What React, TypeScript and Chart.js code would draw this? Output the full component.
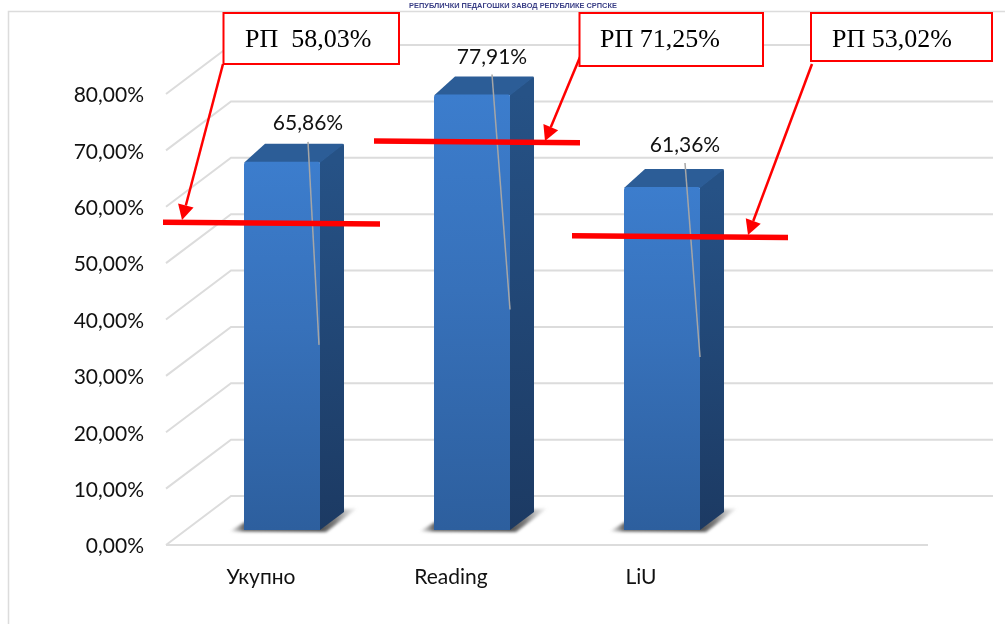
import React, { useEffect, useRef } from "react";
import { Chart, registerables } from "chart.js";

Chart.register(...registerables);

// ---- data ----
const categories = ["Укупно", "Reading", "LiU", ""];
const scores = [65.86, 77.91, 61.36, null];
const referenceValues = ["РП  58,03%", "РП 71,25%", "РП 53,02%"];
const referenceLevels = [57.1, 71.5, 54.7]; // where the hand-placed red lines sit on the axis
const headerText = "РЕПУБЛИЧКИ ПЕДАГОШКИ ЗАВОД РЕПУБЛИКЕ СРПСКЕ";

// ---- layout / style ----
const W = 1005;
const H = 624;
const LATO = "Lato, Carlito, sans-serif";
const SERIF = "'Liberation Serif', serif";
const GRID = "#dcdcdc";
const RED = "#ff0000";
const DEPTH_X = 24;
const DEPTH_Y = -18;
const WALL_DX = 65;
const WALL_DY = -49;
const FLOOR_LEFT = 166;
const FLOOR_RIGHT = 928;

const labelOffsets = [[26, -39], [20, -37], [23, -42]];
const leaderOffsets = [[26, -20, 37, 183], [20, -20, 38, 215], [23, -24, 38, 170]];
const redLines = [[163, 380, 0.8], [374, 580, 0.8], [572, 788, 0.8]];
const boxes = [
  { x: 223.5, y: 13, w: 175.5, h: 51, tx: 245 },
  { x: 579.5, y: 13, w: 183.5, h: 53, tx: 600 },
  { x: 811, y: 13, w: 181, h: 48, tx: 832 },
];
const arrows = [
  [223, 64, 182, 220],
  [580, 57, 545, 141],
  [812, 64, 748, 235],
];

const fmt = (v: number) => v.toFixed(2).replace(".", ",") + "%";

function drawArrow(c: CanvasRenderingContext2D, x0: number, y0: number, x1: number, y1: number) {
  const a = Math.atan2(y1 - y0, x1 - x0);
  const len = 15;
  const half = 8;
  const bx = x1 - Math.cos(a) * len;
  const by = y1 - Math.sin(a) * len;
  c.strokeStyle = RED;
  c.lineWidth = 2.5;
  c.beginPath();
  c.moveTo(x0, y0);
  c.lineTo(bx, by);
  c.stroke();
  c.fillStyle = RED;
  c.beginPath();
  c.moveTo(x1, y1);
  c.lineTo(bx - Math.sin(a) * half, by + Math.cos(a) * half);
  c.lineTo(bx + Math.sin(a) * half, by - Math.cos(a) * half);
  c.closePath();
  c.fill();
}

const backdropPlugin = {
  id: "backdrop",
  beforeDatasetsDraw(chart: any) {
    const c: CanvasRenderingContext2D = chart.ctx;
    const y = chart.scales.y;
    c.save();

    // frame
    c.strokeStyle = GRID;
    c.lineWidth = 1.5;
    c.beginPath();
    c.moveTo(8.5, H);
    c.lineTo(8.5, 11.5);
    c.lineTo(W, 11.5);
    c.stroke();

    // walls and floor
    c.strokeStyle = GRID;
    c.lineWidth = 2;
    y.ticks.forEach((t: any) => {
      const py = y.getPixelForValue(t.value);
      c.beginPath();
      c.moveTo(FLOOR_LEFT, py);
      c.lineTo(FLOOR_LEFT + WALL_DX, py + WALL_DY);
      c.lineTo(FLOOR_RIGHT + WALL_DX, py + WALL_DY);
      c.stroke();
    });
    const py0 = y.getPixelForValue(0);
    c.beginPath();
    c.moveTo(FLOOR_LEFT, py0);
    c.lineTo(FLOOR_RIGHT, py0);
    c.stroke();

    // bar depth
    chart.getDatasetMeta(0).data.forEach((bar: any, i: number) => {
      if (scores[i] == null) return;
      const { x, y: top, base, width } = bar.getProps(["x", "y", "base", "width"], true);
      const l = x - width / 2;
      const r = x + width / 2;

      // floor shadow
      c.save();
      c.filter = "blur(1.5px)";
      const sg = c.createLinearGradient(l - 15, 0, r + 38, 0);
      const span = r + 38 - (l - 15);
      sg.addColorStop(0, "rgba(110,110,110,0)");
      sg.addColorStop(15 / span, "rgba(70,70,70,0.85)");
      sg.addColorStop((width + 15) / span, "rgba(60,60,60,0.9)");
      sg.addColorStop((width + 30) / span, "rgba(80,80,80,0.75)");
      sg.addColorStop(1, "rgba(130,130,130,0)");
      c.fillStyle = sg;
      c.beginPath();
      c.moveTo(l - 15, base + 1.5);
      c.lineTo(l + 8, base - 12);
      c.lineTo(r + 38, base + DEPTH_Y - 4);
      c.lineTo(r + 6, base + 2);
      c.closePath();
      c.fill();
      c.restore();

      // side
      const side = c.createLinearGradient(0, top, 0, base);
      side.addColorStop(0, "#265286");
      side.addColorStop(1, "#1c3a63");
      c.fillStyle = side;
      c.beginPath();
      c.moveTo(r, top);
      c.lineTo(r + DEPTH_X - 1, top + DEPTH_Y);
      c.quadraticCurveTo(r + DEPTH_X, top + DEPTH_Y, r + DEPTH_X, top + DEPTH_Y + 2);
      c.lineTo(r + DEPTH_X, base + DEPTH_Y);
      c.lineTo(r, base);
      c.closePath();
      c.fill();

      // top
      c.fillStyle = "#2c5d97";
      c.beginPath();
      c.moveTo(l, top + 1);
      c.lineTo(l + DEPTH_X - 3, top + DEPTH_Y);
      c.lineTo(r + DEPTH_X - 2, top + DEPTH_Y);
      c.quadraticCurveTo(r + DEPTH_X, top + DEPTH_Y, r + DEPTH_X - 1, top + DEPTH_Y + 1);
      c.lineTo(r, top + 1);
      c.closePath();
      c.fill();
    });
    c.restore();
  },
};

const overlayPlugin = {
  id: "overlay",
  afterDatasetsDraw(chart: any) {
    const c: CanvasRenderingContext2D = chart.ctx;
    const y = chart.scales.y;
    c.save();

    // header
    c.fillStyle = "#3a3f86";
    c.font = `bold 7.4px 'Liberation Sans', sans-serif`;
    c.textAlign = "center";
    c.textBaseline = "middle";
    c.fillText(headerText, 513, 6);

    // leader lines and value labels
    chart.getDatasetMeta(0).data.forEach((bar: any, i: number) => {
      const v = scores[i];
      if (v == null) return;
      const { x, y: top } = bar.getProps(["x", "y"], true);
      const [x0, y0, x1, y1] = leaderOffsets[i];
      c.strokeStyle = "#a6a6a6";
      c.lineWidth = 1.5;
      c.beginPath();
      c.moveTo(x + x0, top + y0);
      c.lineTo(x + x1, top + y1);
      c.stroke();
      c.fillStyle = "#111111";
      c.font = `21px ${LATO}`;
      c.textAlign = "center";
      c.textBaseline = "middle";
      c.fillText(fmt(v), x + labelOffsets[i][0], top + labelOffsets[i][1]);
    });

    // red reference lines
    referenceLevels.forEach((level, i) => {
      const py = y.getPixelForValue(level);
      const [x0, x1, tilt] = redLines[i];
      c.strokeStyle = RED;
      c.lineWidth = 5.5;
      c.beginPath();
      c.moveTo(x0, py - tilt);
      c.lineTo(x1, py + tilt);
      c.stroke();
    });

    // arrows
    arrows.forEach(([a, b, d, e]) => drawArrow(c, a, b, d, e));

    // callout boxes
    referenceValues.forEach((text, i) => {
      const b = boxes[i];
      c.fillStyle = "#ffffff";
      c.fillRect(b.x, b.y, b.w, b.h);
      c.strokeStyle = RED;
      c.lineWidth = 2;
      c.strokeRect(b.x, b.y, b.w, b.h);
      c.fillStyle = "#000000";
      c.font = `26px ${SERIF}`;
      c.textAlign = "left";
      c.textBaseline = "middle";
      c.fillText(text, b.tx, 40);
    });
    c.restore();
  },
};

export default function App() {
  const ref = useRef<HTMLCanvasElement | null>(null);

  useEffect(() => {
    const canvas = ref.current!;
    const chart = new Chart(canvas, {
      type: "bar",
      data: {
        labels: categories,
        datasets: [
          {
            data: scores as any,
            yAxisID: "y2",
            barPercentage: 0.4,
            categoryPercentage: 1,
            borderRadius: { topLeft: 3, topRight: 2, bottomLeft: 0, bottomRight: 0 },
            borderSkipped: false,
            backgroundColor: (ctx: any) => {
              const area = ctx.chart.chartArea;
              const s = ctx.chart.scales.y2;
              if (!area || !s || ctx.raw == null) return "#336cb4";
              const g = ctx.chart.ctx.createLinearGradient(0, s.getPixelForValue(ctx.raw), 0, s.getPixelForValue(0));
              g.addColorStop(0, "#3c7dcd");
              g.addColorStop(0.45, "#3771ba");
              g.addColorStop(1, "#2d5f9e");
              return g;
            },
          },
        ],
      },
      options: {
        responsive: false,
        animation: false,
        devicePixelRatio: 1,
        layout: { padding: { top: 94, right: 58, left: 0, bottom: 0 } },
        plugins: { legend: { display: false }, tooltip: { enabled: false } },
        scales: {
          x: {
            grid: { display: false, drawTicks: false },
            border: { display: false },
            ticks: {
              autoSkip: false,
              maxRotation: 0,
              padding: 20,
              labelOffset: -21,
              color: "#111111",
              font: { family: LATO, size: 21 },
            },
            afterFit: (s: any) => {
              s.height = 79;
            },
          },
          y: {
            min: 0,
            max: 80,
            grid: { display: false, drawTicks: false },
            border: { display: false },
            ticks: {
              stepSize: 10,
              padding: 43,
              labelOffset: 1.5,
              color: "#111111",
              font: { family: LATO, size: 21 },
              callback: (v: any) => fmt(Number(v)),
            },
            afterFit: (s: any) => {
              s.width = 187;
            },
          },
          y2: {
            display: false,
            min: -2.68,
            max: 78,
          },
        },
      } as any,
      plugins: [backdropPlugin, overlayPlugin] as any,
    });
    return () => chart.destroy();
  }, []);

  return (
    <div style={{ position: "fixed", left: 0, top: 0, width: W, height: H, background: "#ffffff", overflow: "hidden" }}>
      <canvas ref={ref} width={W} height={H} style={{ display: "block" }} />
    </div>
  );
}
